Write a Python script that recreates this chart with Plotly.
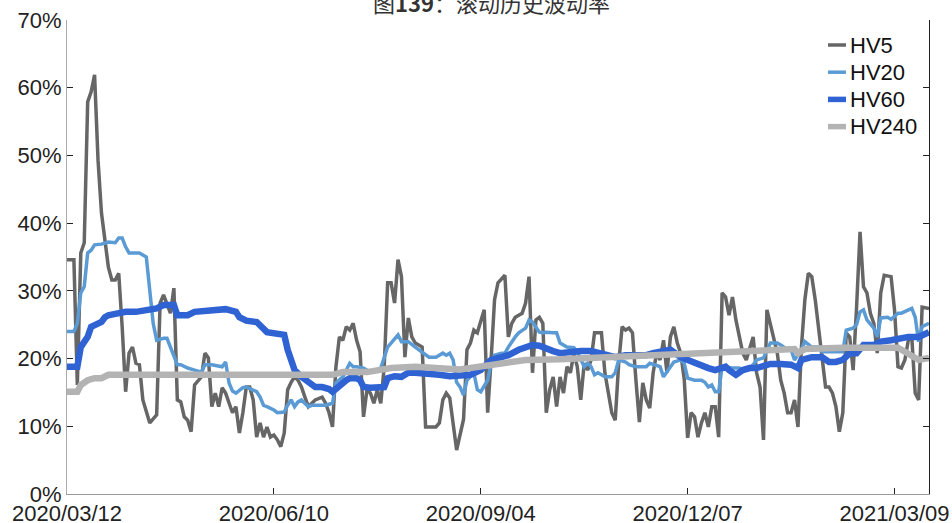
import plotly.graph_objects as go

# trading-day index (0 = 2020/03/12) and rolling vol in %
tick_pos = [0, 60, 120, 180, 240]
tick_text = ["2020/03/12", "2020/06/10", "2020/09/04", "2020/12/07", "2021/03/09"]

hv5_x = [0, 2, 3, 4, 5, 6, 7, 8, 9, 10, 12, 13, 14, 15, 16, 17, 18, 19, 20, 21, 22, 24, 26, 27, 28,
         29, 30, 31, 32, 33, 34, 35, 36, 37, 39, 40, 41, 42, 43, 44, 45, 46, 48, 49, 50, 51, 52, 53,
         54, 55, 56, 57, 58, 59, 60, 61, 62, 63, 64, 65, 66, 67, 68, 69, 70, 71, 72, 74, 75, 76, 77,
         78, 79, 80, 81, 82, 83, 84, 85, 86, 87, 88, 89, 90, 91, 92, 93, 94, 95, 96, 97, 98, 99, 100,
         101, 103, 104, 105, 107, 108, 109, 110, 111, 113, 114, 115, 116, 117, 118, 119, 121, 122,
         123, 124, 125, 127, 128, 129, 130, 132, 133, 134, 135, 136, 137, 138, 139, 140, 141, 142,
         143, 144, 145, 146, 147, 148, 149, 150, 151, 152, 153, 154, 155, 156, 158, 159, 160, 161,
         162, 163, 164, 165, 166, 167, 168, 169, 170, 171, 172, 173, 174, 175, 176, 177, 178, 179,
         180, 181, 182, 183, 184, 185, 186, 187, 188, 189, 190, 191, 192, 193, 194, 196, 197, 199,
         200, 201, 202, 203, 204, 206, 207, 208, 209, 210, 211, 212, 213, 214, 215, 216, 217, 218,
         219, 220, 221, 222, 223, 224, 225, 226, 227, 228, 229, 230, 231, 232, 233, 234, 235, 236,
         237, 238, 239, 240, 241, 242, 243, 244, 245, 246, 247, 248, 250]
hv5 = [34.6, 34.6, 16.1, 35.6, 37.1, 57.9, 59.4, 61.9, 49.3, 41.5, 33.5, 31.6, 31.6, 32.6, 24.7, 15.1,
       20.8, 21.7, 19.3, 19.1, 13.9, 10.5, 11.7, 28.2, 29.4, 28.2, 26.7, 30.4, 13.9, 13.6, 11.4, 10.9,
       9.2, 16.1, 17.3, 20.8, 20.1, 12.9, 14.9, 12.9, 15.7, 14.9, 12.0, 12.9, 9.0, 12.0, 15.8, 15.8,
       13.9, 8.4, 10.5, 8.4, 9.9, 8.4, 8.7, 8.0, 7.0, 9.0, 15.4, 16.5, 17.3, 16.8, 15.8, 14.3, 12.9,
       13.4, 13.9, 14.3, 13.4, 12.0, 9.9, 18.8, 23.2, 22.7, 24.7, 24.2, 25.2, 22.7, 21.0, 11.4, 15.4,
       14.9, 13.4, 15.4, 13.4, 18.8, 31.2, 31.2, 28.2, 34.6, 32.1, 20.2, 26.0, 23.2, 22.3, 21.7, 9.9,
       9.9, 9.9, 10.5, 13.9, 14.9, 14.2, 6.5, 9.0, 11.0, 21.3, 22.3, 24.2, 23.8, 27.2, 12.0, 19.8,
       28.7, 31.2, 32.3, 23.2, 25.2, 26.1, 26.7, 28.2, 32.1, 17.9, 25.7, 26.1, 25.2, 12.0, 15.4, 17.3,
       12.9, 17.3, 14.9, 18.8, 17.9, 20.8, 18.8, 13.9, 19.3, 18.3, 19.8, 23.8, 23.8, 23.8, 17.9, 12.0,
       10.9, 19.3, 24.7, 24.2, 24.5, 23.8, 16.8, 10.6, 16.4, 13.9, 12.7, 17.9, 20.8, 19.8, 22.7, 17.9,
       23.2, 24.7, 22.3, 20.8, 17.0, 8.3, 12.0, 11.4, 8.4, 10.5, 12.0, 9.9, 12.9, 12.9, 8.4, 29.7,
       29.1, 26.4, 29.1, 25.7, 20.8, 19.8, 23.2, 17.9, 15.8, 8.0, 27.2, 25.2, 20.8, 16.8, 14.9, 12.0,
       12.0, 13.9, 9.9, 21.7, 28.7, 32.6, 32.1, 28.7, 24.2, 19.3, 15.8, 15.8, 14.9, 12.9, 9.2, 12.0,
       23.8, 23.2, 18.3, 27.6, 38.7, 30.6, 29.7, 26.7, 25.2, 20.8, 29.7, 32.3, 32.2, 32.1, 27.2, 18.8,
       18.6, 19.8, 22.7, 23.2, 14.9, 13.9, 27.6, 27.4]

hv20_x = [0, 2, 3, 4, 5, 6, 7, 8, 10, 12, 14, 15, 16, 17, 18, 21, 23, 24, 25, 26, 28, 29, 30, 32, 33,
          35, 37, 39, 40, 42, 45, 46, 47, 48, 49, 51, 52, 54, 55, 56, 57, 58, 60, 61, 63, 64, 65, 66,
          67, 68, 70, 71, 73, 75, 77, 78, 80, 82, 83, 84, 86, 87, 88, 90, 91, 93, 94, 96, 97, 98, 99,
          101, 103, 105, 107, 109, 110, 111, 112, 113, 114, 115, 116, 118, 119, 120, 122, 123, 124,
          126, 127, 128, 130, 131, 133, 134, 135, 137, 138, 139, 141, 142, 143, 145, 147, 148, 150,
          151, 152, 153, 154, 156, 158, 159, 160, 162, 163, 165, 166, 168, 169, 170, 172, 173, 175,
          176, 178, 179, 180, 182, 184, 185, 186, 187, 188, 189, 190, 192, 193, 195, 196, 198, 199,
          200, 202, 204, 206, 207, 209, 210, 211, 213, 214, 216, 218, 219, 221, 223, 225, 226, 228,
          229, 230, 231, 232, 234, 235, 236, 238, 239, 241, 242, 243, 245, 246, 247, 248, 250]
hv20 = [24.0, 24.0, 25.2, 29.7, 30.6, 35.6, 36.0, 36.8, 36.9, 37.2, 37.1, 37.8, 37.8, 36.5, 35.6,
        35.6, 35.0, 29.7, 25.2, 22.7, 23.0, 23.0, 21.7, 19.1, 19.1, 18.6, 18.3, 18.0, 19.1, 19.1, 18.8,
        19.5, 16.4, 15.2, 14.9, 15.7, 15.8, 15.4, 15.1, 14.3, 13.1, 12.9, 12.4, 12.0, 12.1, 13.1, 13.9,
        12.9, 13.6, 13.9, 12.9, 13.1, 13.1, 13.1, 13.4, 16.4, 17.3, 19.3, 18.8, 18.8, 18.6, 18.3, 18.0,
        18.3, 18.6, 21.7, 22.3, 23.5, 22.5, 22.5, 22.5, 21.7, 21.0, 20.2, 20.2, 20.8, 20.5, 20.8, 19.8,
        16.5, 15.8, 14.6, 16.8, 17.9, 15.4, 15.1, 16.8, 19.3, 20.5, 20.8, 20.8, 21.7, 23.2, 23.8, 24.5,
        25.7, 25.4, 23.9, 23.8, 23.9, 23.8, 23.8, 22.3, 21.7, 21.6, 21.0, 18.8, 19.3, 18.8, 17.6, 17.9,
        17.3, 17.3, 17.9, 19.8, 19.5, 19.1, 18.8, 18.8, 18.8, 19.3, 19.1, 18.8, 17.3, 18.8, 19.5, 19.8,
        19.3, 17.1, 16.8, 16.8, 16.5, 15.8, 16.1, 15.1, 15.1, 18.8, 18.6, 18.6, 18.6, 18.3, 18.6, 19.1,
        19.8, 20.1, 22.3, 22.3, 22.0, 21.3, 21.3, 19.8, 21.3, 22.5, 21.7, 21.7, 21.0, 21.0, 21.0, 21.0,
        24.2, 24.5, 25.0, 26.9, 27.2, 25.7, 24.5, 23.2, 26.0, 26.1, 25.8, 26.7, 26.7, 26.9, 27.4, 26.1,
        22.5, 24.7, 25.2]

hv60_x = [0, 3, 4, 6, 7, 9, 10, 11, 12, 14, 17, 20, 23, 26, 28, 30, 31, 32, 35, 37, 40, 43, 46, 49,
          50, 52, 55, 58, 61, 63, 64, 65, 66, 68, 70, 72, 74, 76, 77, 79, 81, 82, 84, 85, 86, 88, 90,
          92, 93, 95, 97, 99, 101, 105, 108, 111, 114, 117, 120, 123, 126, 128, 131, 133, 135, 137,
          139, 141, 143, 146, 149, 152, 156, 159, 162, 165, 168, 170, 173, 175, 178, 180, 182, 184,
          186, 188, 190, 191, 192, 194, 196, 198, 200, 204, 207, 210, 212, 213, 216, 219, 221, 223,
          225, 227, 229, 231, 234, 236, 239, 241, 244, 247, 250]
hv60 = [18.8, 18.8, 21.7, 23.2, 24.7, 25.2, 25.4, 26.1, 26.4, 26.6, 26.9, 26.9, 27.2, 27.4, 27.9,
        27.8, 27.9, 26.4, 26.4, 26.9, 27.1, 27.2, 27.3, 26.9, 26.1, 25.6, 25.4, 23.9, 23.8, 23.5, 21.3,
        19.8, 18.3, 17.3, 16.4, 15.8, 15.8, 15.5, 15.1, 16.1, 16.8, 17.1, 17.1, 16.8, 15.8, 15.7, 15.7,
        15.8, 17.1, 17.4, 17.3, 17.9, 17.9, 17.6, 17.6, 17.4, 17.4, 17.6, 18.3, 19.8, 20.2, 20.5, 21.3,
        21.7, 22.0, 21.9, 21.4, 21.1, 20.8, 21.0, 21.1, 21.1, 20.5, 20.2, 20.5, 20.5, 20.5, 20.8, 21.0,
        21.3, 20.2, 19.8, 19.3, 18.8, 18.6, 18.3, 18.6, 18.8, 18.3, 17.6, 18.3, 18.6, 18.6, 19.2, 19.2,
        19.1, 18.6, 19.8, 20.2, 20.2, 19.5, 19.5, 19.8, 20.8, 20.8, 22.0, 22.0, 22.5, 22.7, 23.0, 23.2,
        23.2, 23.9]

hv240_x = [0, 3, 4, 6, 8, 10, 12, 18, 28, 37, 54, 68, 77, 80, 87, 94, 101, 114, 123, 133, 143, 152,
           170, 189, 202, 211, 212, 214, 225, 241, 243, 246, 247, 250]
hv240 = [15.1, 15.1, 16.1, 16.8, 17.1, 17.1, 17.6, 17.6, 17.7, 17.7, 17.7, 17.6, 17.6, 18.0, 18.0,
         18.6, 18.8, 18.4, 19.1, 19.8, 19.9, 20.1, 20.6, 20.8, 21.1, 21.4, 20.8, 21.4, 21.6, 21.6,
         21.0, 20.1, 19.8, 20.1]

series = [
    ("HV5", hv5_x, hv5, "#666666", 3.5, 3.5),
    ("HV20", hv20_x, hv20, "#5b9bd5", 3.5, 3.5),
    ("HV60", hv60_x, hv60, "#2f62d3", 6.5, 5.5),
    ("HV240", hv240_x, hv240, "#b3b3b3", 6.5, 5.5),
]

# plot area in pixels, used to place the hand-drawn legend
L, R, T, B = 67, 929, 20, 494
W, H = R - L, B - T

def px_x(p):
    return (p - L) / W

def px_y(p):
    return 1 - (p - T) / H

fig = go.Figure()
for k, (name, xs, ys, color, w, lw) in enumerate(series):
    fig.add_trace(go.Scatter(x=xs, y=ys, mode="lines", name=name, showlegend=False,
                             line=dict(color=color, width=w)))
    row_y = 45 + 27.2 * k
    fig.add_shape(type="line", xref="paper", yref="paper",
                  x0=px_x(828), x1=px_x(846), y0=px_y(row_y), y1=px_y(row_y),
                  line=dict(color=color, width=lw))
    fig.add_annotation(text=name, xref="paper", yref="paper",
                       x=px_x(848), y=px_y(row_y), xanchor="left", yanchor="middle",
                       showarrow=False, font=dict(size=22, color="#111111"))

# empty trace so the right-hand mirror axis gets drawn
fig.add_trace(go.Scatter(x=[], y=[], yaxis="y2", showlegend=False, hoverinfo="skip"))

font_main = "Liberation Sans, Arial, sans-serif"

fig.update_layout(
    width=952,
    height=523,
    margin=dict(l=L, r=952 - R, t=T, b=523 - B),
    paper_bgcolor="white",
    plot_bgcolor="white",
    font=dict(family=font_main, size=22, color="#222222"),
    showlegend=False,
    xaxis=dict(
        range=[0, 250], automargin=False,
        tickmode="array", tickvals=tick_pos, ticktext=tick_text,
        ticks="inside", ticklen=6, tickcolor="#222222",
        showline=True, linecolor="#999999", linewidth=1,
        showgrid=False, zeroline=False,
        tickfont=dict(size=22, color="#222222"),
    ),
    yaxis=dict(
        range=[0, 70], dtick=10, ticksuffix="%", automargin=False,
        ticks="inside", ticklen=6, tickcolor="#222222",
        showline=True, linecolor="#aaaaaa", linewidth=1,
        showgrid=False, zeroline=False,
        tickfont=dict(size=22, color="#222222"),
    ),
    yaxis2=dict(
        range=[0, 70], dtick=10, overlaying="y", side="right", automargin=False,
        ticks="inside", ticklen=6, tickcolor="#222222",
        showline=True, linecolor="#222222", linewidth=1,
        showticklabels=False, showgrid=False, zeroline=False,
    ),
)

fig.add_annotation(
    text="图<b>139</b>：滚动历史波动率",
    xref="paper", yref="paper", x=0.493, y=1.0, yshift=18,
    xanchor="center", yanchor="middle", showarrow=False,
    font=dict(family="Noto Sans CJK SC, Liberation Sans, sans-serif", size=22, color="#333333"),
)

fig.write_html("out.html", config={"displayModeBar": False},
               post_script="document.body.style.margin='0';")
